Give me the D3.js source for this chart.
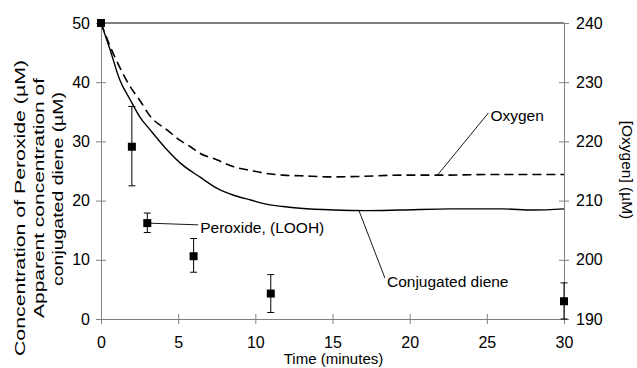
<!DOCTYPE html>
<html>
<head>
<meta charset="utf-8">
<script src="https://cdn.jsdelivr.net/npm/d3@7.9.0/dist/d3.min.js"></script>
<style>
  body { margin: 0; background: #fff; }
  svg { display: block; font-family: 'Liberation Sans', Arial, sans-serif; }
  .axis path, .axis line { stroke: #808080; }
  .axis text { fill: #000; font-size: 16px; }
</style>
</head>
<body>
<div id="chart"></div>
<script>
// peroxide (LOOH) measurements, left axis
const peroxideTime = [0, 2, 3, 6, 11, 30];
const peroxideValue = [50, 29.1, 16.2, 10.6, 4.3, 3.0];
const peroxideLow = [50, 22.5, 14.6, 7.9, 1.1, 0];
const peroxideHigh = [50, 35.9, 17.9, 13.6, 7.5, 6.1];

// conjugated diene trace, left axis
const dieneTime = [0, 0.6, 1.2, 1.9, 2.5, 3.2, 4.2, 5.2, 6.4, 7.5, 8.6, 9.7, 10.7, 11.8, 12.9, 15.1, 17.2, 19.4, 22.7, 26, 28, 30];
const dieneValue = [50, 45.4, 40.5, 37.0, 34.2, 31.9, 28.8, 26.2, 24.0, 22.1, 20.9, 20.1, 19.4, 19.0, 18.7, 18.4, 18.3, 18.4, 18.6, 18.6, 18.4, 18.6];

// oxygen trace, right axis
const oxygenTime = [0, 0.6, 1.2, 1.9, 2.5, 3.2, 4.3, 5.1, 5.8, 6.4, 7.5, 8.6, 9.7, 10.7, 11.8, 12.9, 15, 17, 19.4, 22, 25, 30];
const oxygenValue = [240, 236.0, 232.6, 229.2, 227.0, 224.2, 221.9, 220.2, 219.1, 218.0, 216.9, 215.7, 215.1, 214.6, 214.3, 214.2, 214.0, 214.1, 214.3, 214.3, 214.4, 214.4];

const xTicks = [0, 5, 10, 15, 20, 25, 30];
const leftTicks = [0, 10, 20, 30, 40, 50];
const rightTicks = [190, 200, 210, 220, 230, 240];
const leftTitle = ['Concentration of Peroxide (µM)', 'Apparent concentration of', 'conjugated diene (µM)'];

const width = 637;
const height = 368;
const plot = { left: 101, right: 564, top: 23, bottom: 319 };

const svg = d3.select('#chart')
  .append('svg')
  .attr('width', width)
  .attr('height', height);

const x = d3.scaleLinear().domain([0, 30]).range([plot.left, plot.right]);
const yL = d3.scaleLinear().domain([0, 50]).range([plot.bottom, plot.top]);
const yR = d3.scaleLinear().domain([190, 240]).range([plot.bottom, plot.top]);

// top border
svg.append('line')
  .attr('x1', plot.left).attr('x2', plot.right)
  .attr('y1', plot.top).attr('y2', plot.top)
  .attr('stroke', '#000').attr('stroke-width', 1.2);

// axes, ticks cross the axis line
const gx = svg.append('g').attr('class', 'axis')
  .attr('transform', `translate(0,${plot.bottom})`)
  .call(d3.axisBottom(x).tickValues(xTicks).tickSize(5).tickSizeOuter(0).tickPadding(13));
gx.selectAll('.tick line').attr('y1', -5).attr('y2', 5);

const gl = svg.append('g').attr('class', 'axis')
  .attr('transform', `translate(${plot.left},0)`)
  .call(d3.axisLeft(yL).tickValues(leftTicks).tickSize(5).tickSizeOuter(0).tickPadding(6));
gl.selectAll('.tick line').attr('x1', 5).attr('x2', -5);

const gr = svg.append('g').attr('class', 'axis')
  .attr('transform', `translate(${plot.right},0)`)
  .call(d3.axisRight(yR).tickValues(rightTicks).tickSize(5).tickSizeOuter(0).tickPadding(7));
gr.selectAll('.tick line').attr('x1', -5).attr('x2', 5);

// titles
svg.append('text')
  .attr('x', (plot.left + plot.right) / 2 + 1)
  .attr('y', 364)
  .attr('text-anchor', 'middle')
  .attr('font-size', 15)
  .text('Time (minutes)');

const titleX = [20, 39, 58];
const titleY = [208, 198, 189];
const titleLen = [296, 240, 194];
leftTitle.forEach((t, i) => {
  svg.append('text')
    .attr('transform', `translate(${titleX[i]},${titleY[i]}) rotate(-90)`)
    .attr('text-anchor', 'middle')
    .attr('dy', '0.35em')
    .attr('font-size', 14.5)
    .attr('textLength', titleLen[i])
    .attr('lengthAdjust', 'spacingAndGlyphs')
    .text(t);
});

svg.append('text')
  .attr('transform', 'translate(627,170) rotate(90)')
  .attr('text-anchor', 'middle')
  .attr('dy', '0.35em')
  .attr('font-size', 15.5)
  .text('[Oxygen] (µM)');

// curves
const diene = dieneTime.map((t, i) => [t, dieneValue[i]]);
const oxygen = oxygenTime.map((t, i) => [t, oxygenValue[i]]);

svg.append('path')
  .datum(diene)
  .attr('fill', 'none')
  .attr('stroke', '#000')
  .attr('stroke-width', 1.4)
  .attr('d', d3.line().x(d => x(d[0])).y(d => yL(d[1])).curve(d3.curveMonotoneX));

svg.append('path')
  .datum(oxygen)
  .attr('fill', 'none')
  .attr('stroke', '#000')
  .attr('stroke-width', 1.6)
  .attr('stroke-dasharray', '9,5')
  .attr('d', d3.line().x(d => x(d[0])).y(d => yR(d[1])).curve(d3.curveMonotoneX));

// peroxide error bars and markers
const pts = peroxideTime.map((t, i) => ({ t, v: peroxideValue[i], lo: peroxideLow[i], hi: peroxideHigh[i] }));
const err = svg.append('g').attr('stroke', '#000').attr('stroke-width', 1);
pts.filter(d => d.hi > d.lo).forEach(d => {
  err.append('line').attr('x1', x(d.t)).attr('x2', x(d.t)).attr('y1', yL(d.lo)).attr('y2', yL(d.hi));
  err.append('line').attr('x1', x(d.t) - 3.5).attr('x2', x(d.t) + 3.5).attr('y1', yL(d.lo)).attr('y2', yL(d.lo));
  err.append('line').attr('x1', x(d.t) - 3.5).attr('x2', x(d.t) + 3.5).attr('y1', yL(d.hi)).attr('y2', yL(d.hi));
});

svg.append('g')
  .selectAll('rect')
  .data(pts)
  .join('rect')
  .attr('x', d => x(d.t) - 4)
  .attr('y', d => yL(d.v) - 4)
  .attr('width', 8)
  .attr('height', 8)
  .attr('fill', '#000');

// annotations with leader lines
const notes = [
  { label: 'Oxygen', from: [x(21.8), yR(214.3)], to: [x(25.1), yR(224.8)] },
  { label: 'Conjugated diene', from: [x(16.7), yL(18.4)], to: [x(18.4), yL(6.9)] },
  { label: 'Peroxide, (LOOH)', from: [x(3), yL(16.2)], to: [x(6.3), yL(15.9)] },
];
notes.forEach(n => {
  svg.append('line')
    .attr('x1', n.from[0]).attr('y1', n.from[1])
    .attr('x2', n.to[0]).attr('y2', n.to[1])
    .attr('stroke', '#000').attr('stroke-width', 0.9);
  svg.append('text')
    .attr('x', n.to[0] + 2)
    .attr('y', n.to[1] + 3)
    .attr('dy', '0.35em')
    .attr('font-size', 15.5)
    .text(n.label);
});
</script>
</body>
</html>
